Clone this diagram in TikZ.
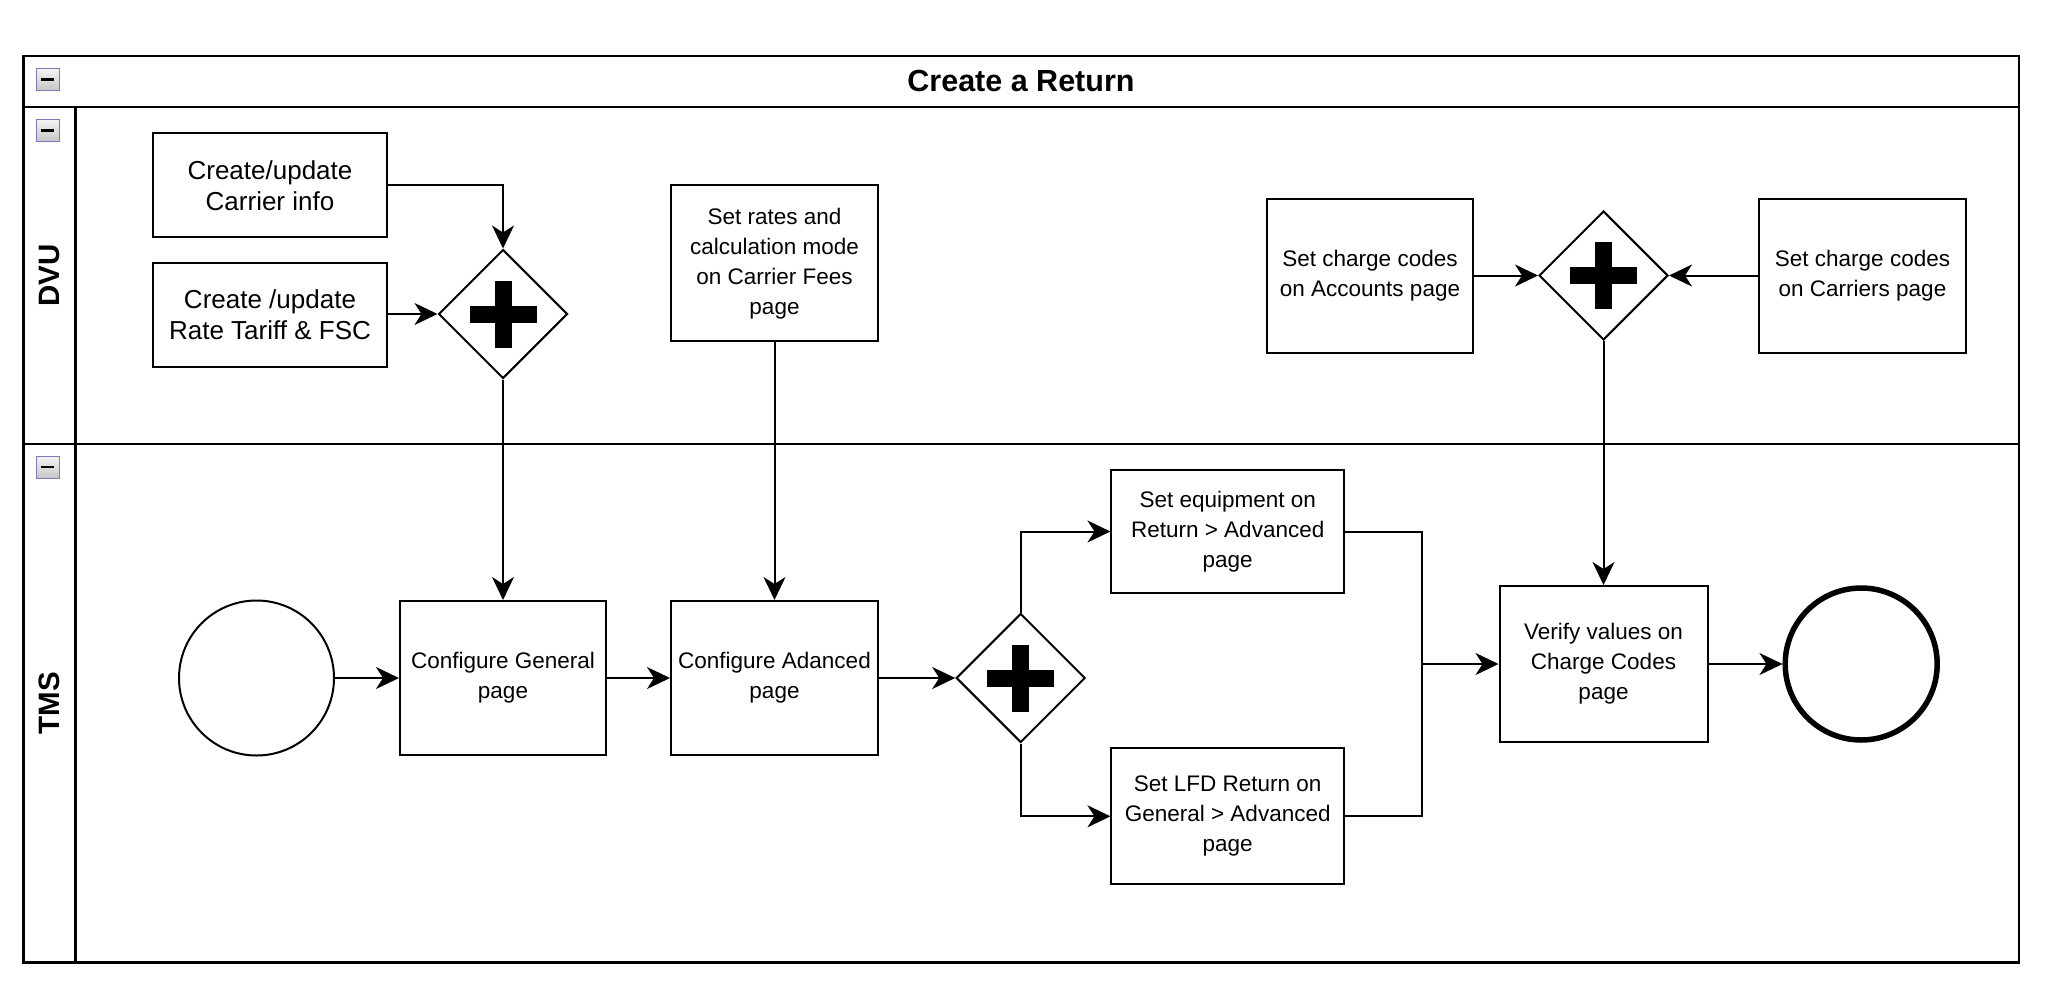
\documentclass[tikz,border=0pt]{standalone}
\usepackage{fontspec}
\setmainfont{Liberation Sans}
\usetikzlibrary{arrows.meta,shapes.geometric}
\begin{document}
\begin{tikzpicture}[x=1pt,y=-1pt,
  arr/.style={draw, line width=2pt, -{Stealth[length=23pt,width=22pt,inset=7pt]}},
  ln/.style={draw, line width=2pt},
  task/.style={draw, line width=2pt, rectangle, inner sep=2pt, align=center,
    font=\fontsize{22.5}{30}\selectfont},
  bigtask/.style={task, font=\fontsize{26}{31}\selectfont},
  gate/.style={draw, line width=2pt, diamond, aspect=1, inner sep=0pt,
    minimum width=129pt, minimum height=129pt},
  lanelbl/.style={rotate=90, font=\bfseries\fontsize{29.5}{32}\selectfont},
  collapse/.style={draw=gray!70!blue!80, line width=1pt, top color=gray!8, bottom color=gray!45}
]
\useasboundingbox (0,0) rectangle (2048,996);

% pool and lanes
\draw[line width=2.5pt] (23.5,56) rectangle (2019,962.6);
\draw[line width=2.5pt] (23.5,107) -- (2019,107);
\draw[line width=2.5pt] (23.5,444) -- (2019,444);
\draw[line width=2.5pt] (75.7,107) -- (75.7,962.6);
\node[font=\bfseries\fontsize{30.5}{34}\selectfont] (title) at (1021,81) {Create a Return};
\node[lanelbl] (dvu) at (49.6,275.5) {DVU};
\node[lanelbl] (tms) at (49.6,703) {TMS};

% collapse icons
\foreach \yy in {68.5,119.5,456} {
  \draw[collapse] (36,\yy) rectangle (59,\yy+22);
  \fill[black] (40.8,\yy+9.6) rectangle (54.2,\yy+12.4);
}

% DVU lane nodes
\node[bigtask, minimum width=234pt, minimum height=104pt] (ci) at (270,185.3) {Create/update\\Carrier info};
\node[bigtask, minimum width=234pt, minimum height=104pt] (rt) at (270,314.5) {Create /update\\Rate Tariff \& FSC};
\node[gate] (d1) at (503,314) {};
\node[task, minimum width=207pt, minimum height=155.5pt] (sr) at (774.5,263.2) {Set rates and\\calculation mode\\on Carrier Fees\\page};
\node[task, minimum width=206pt, minimum height=154pt] (acc) at (1370,275.5) {Set charge codes\\on Accounts page};
\node[gate] (d2) at (1603.5,275.5) {};
\node[task, minimum width=207pt, minimum height=154pt] (car) at (1862.5,275.5) {Set charge codes\\on Carriers page};

% TMS lane nodes
\node[draw, line width=2pt, circle, minimum size=155pt, inner sep=0pt] (st) at (256.5,678) {};
\node[task, minimum width=206pt, minimum height=154pt] (cg) at (503,678) {Configure General\\page};
\node[task, minimum width=207pt, minimum height=154pt] (ca) at (774.5,678) {Configure Adanced\\page};
\node[gate] (d3) at (1020.7,678) {};
\node[task, minimum width=232.5pt, minimum height=123pt] (eq) at (1227.7,531.5) {Set equipment on\\Return > Advanced\\page};
\node[task, minimum width=232.5pt, minimum height=136pt] (lfd) at (1227.7,816.3) {Set LFD Return on\\General > Advanced\\page};
\node[task, minimum width=208pt, minimum height=156pt] (vf) at (1603.5,664) {Verify values on\\Charge Codes\\page};
\node[draw, line width=5.5pt, circle, minimum size=152pt, inner sep=0pt] (en) at (1861.2,664) {};

% plus signs in gateways
\foreach \g in {d1,d2,d3} {
  \fill[black] ([shift={(-33.5,-8.5)}]\g.center) rectangle ([shift={(33.5,8.5)}]\g.center);
  \fill[black] ([shift={(-8.5,-33.5)}]\g.center) rectangle ([shift={(8.5,33.5)}]\g.center);
}

% connectors
\draw[arr] (ci.east) -| (d1.north);
\draw[arr] (rt.east |- d1.west) -- (d1.west);
\draw[arr] (d1.south) -- (cg.north);
\draw[arr] (sr.south) -- (ca.north);
\draw[arr] (st.east) -- (cg.west);
\draw[arr] (cg.east) -- (ca.west);
\draw[arr] (ca.east) -- (d3.west);
\draw[arr] (d3.north) |- (eq.west);
\draw[arr] (d3.south) |- (lfd.west);
\coordinate (mj) at (1422,664);
\draw[ln] (eq.east) -| (mj);
\draw[ln] (lfd.east) -| (mj);
\draw[arr] (mj) -- (vf.west);
\draw[arr] (acc.east) -- (d2.west);
\draw[arr] (car.west) -- (d2.east);
\draw[arr] (d2.south) -- (vf.north);
\draw[arr] (vf.east) -- (en.west);
\end{tikzpicture}
\end{document}
